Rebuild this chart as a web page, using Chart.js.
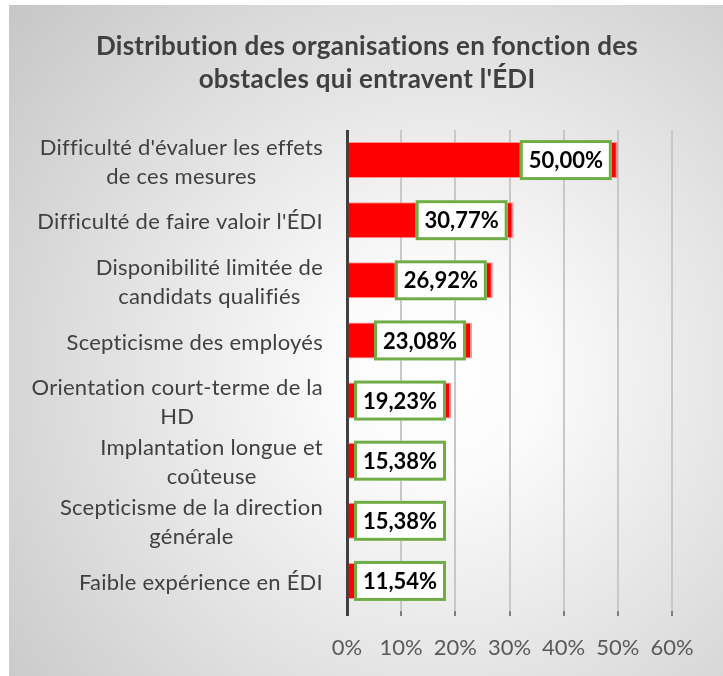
<!DOCTYPE html>
<html>
<head>
<meta charset="utf-8">
<script src="https://cdn.jsdelivr.net/npm/chart.js@4"></script>
<style>
  body { margin: 0; background: #fff; }
  #box {
    position: absolute; left: 9px; top: 5px; width: 714px; height: 671px;
    background: radial-gradient(circle farthest-corner at 60% 55%, #ffffff 0%, #fbfbfb 18%, #c6c6c6 100%);
  }
</style>
</head>
<body>
<div id="box"><canvas id="chart"></canvas></div>
<script>
// ---- data ----
const categories = [
  ["Difficulté d'évaluer les effets", "de ces mesures"],
  ["Difficulté de faire valoir l'ÉDI"],
  ["Disponibilité limitée de", "candidats qualifiés"],
  ["Scepticisme des employés"],
  ["Orientation court-terme de la", "HD"],
  ["Implantation longue et", "coûteuse"],
  ["Scepticisme de la direction", "générale"],
  ["Faible expérience en ÉDI"]
];
const values = [50.00, 30.77, 26.92, 23.08, 19.23, 15.38, 15.38, 11.54];
const titleLines = ["Distribution des organisations en fonction des", "obstacles qui entravent l'ÉDI"];
const xMin = 0, xMax = 60, xStep = 10;

const FONT = "Lato";

// title, centred on the whole frame
const titleText = {
  id: "titleText",
  afterDraw(chart) {
    const c = chart.ctx;
    c.save();
    c.font = "bold 26px " + FONT;
    c.letterSpacing = "0.25px"; // also stops the ti/ffi ligatures
    c.fillStyle = "#404040";
    c.textAlign = "center";
    c.textBaseline = "middle";
    titleLines.forEach((t, i) => c.fillText(t, chart.width / 2 + 1, 42 + i * 33));
    c.restore();
  }
};

// category labels: block right-aligned, lines centred inside the block
const yLabels = {
  id: "yLabels",
  afterDraw(chart) {
    const c = chart.ctx;
    const y = chart.scales.y;
    const right = chart.chartArea.left - 24;
    c.save();
    c.font = "22px " + FONT;
    c.letterSpacing = "0.25px";
    c.fillStyle = "#404040";
    c.textAlign = "center";
    c.textBaseline = "middle";
    categories.forEach((lines, i) => {
      const cy = y.getPixelForValue(i) + 2;
      const w = Math.max(...lines.map(l => c.measureText(l).width));
      const cx = right - w / 2;
      lines.forEach((l, j) => {
        c.fillText(l, cx, cy + (j - (lines.length - 1) / 2) * 29);
      });
    });
    c.restore();
  }
};

// value labels in white boxes with green border
const valueBoxes = {
  id: "valueBoxes",
  afterDatasetsDraw(chart) {
    const c = chart.ctx;
    const meta = chart.getDatasetMeta(0);
    const w = 92, h = 40;
    c.save();
    meta.data.forEach((bar, i) => {
      const txt = values[i].toFixed(2).replace(".", ",") + "%";
      const left = Math.max(chart.chartArea.left + 7, bar.x - 6 - w);
      const top = bar.y - h / 2;
      c.fillStyle = "#ffffff";
      c.fillRect(left, top, w, h);
      c.strokeStyle = "#70AD47";
      c.lineWidth = 3;
      c.strokeRect(left + 1.5, top + 1.5, w - 3, h - 3);
      c.fillStyle = "#000000";
      c.font = "bold 22px " + FONT;
      c.textAlign = "center";
      c.textBaseline = "middle";
      c.fillText(txt, left + w / 2, bar.y + 1);
    });
    c.restore();
  }
};

new Chart(document.getElementById("chart"), {
  type: "bar",
  data: {
    labels: categories,
    datasets: [{
      data: values,
      backgroundColor: "#FF0000",
      borderColor: "rgba(255,110,110,0.7)",
      borderWidth: { top: 1, bottom: 1, right: 2, left: 0 },
      barPercentage: 0.6,
      categoryPercentage: 1
    }]
  },
  options: {
    indexAxis: "y",
    responsive: true,
    maintainAspectRatio: false,
    animation: false,
    layout: { padding: { top: 125, right: 51 } },
    plugins: {
      legend: { display: false },
      tooltip: { enabled: false },
      title: { display: false }
    },
    scales: {
      x: {
        min: xMin,
        max: xMax,
        ticks: {
          stepSize: xStep,
          callback: v => v + "%",
          color: "#595959",
          font: { family: FONT, size: 22 },
          padding: 19
        },
        grid: {
          color: ctx => ctx.tick && ctx.tick.value === 0 ? "#404040" : "#c8c8c8",
          lineWidth: ctx => ctx.tick && ctx.tick.value === 0 ? 3 : 2,
          tickLength: 5,
          tickColor: ctx => ctx.tick && ctx.tick.value === 0 ? "#404040" : "#808080"
        },
        border: { display: false },
        afterFit: s => { s.height = 65; }
      },
      y: {
        ticks: { display: false },
        grid: { display: false },
        border: { display: false },
        afterFit: s => { s.width = 338; }
      }
    }
  },
  plugins: [titleText, yLabels, valueBoxes]
});
</script>
</body>
</html>
